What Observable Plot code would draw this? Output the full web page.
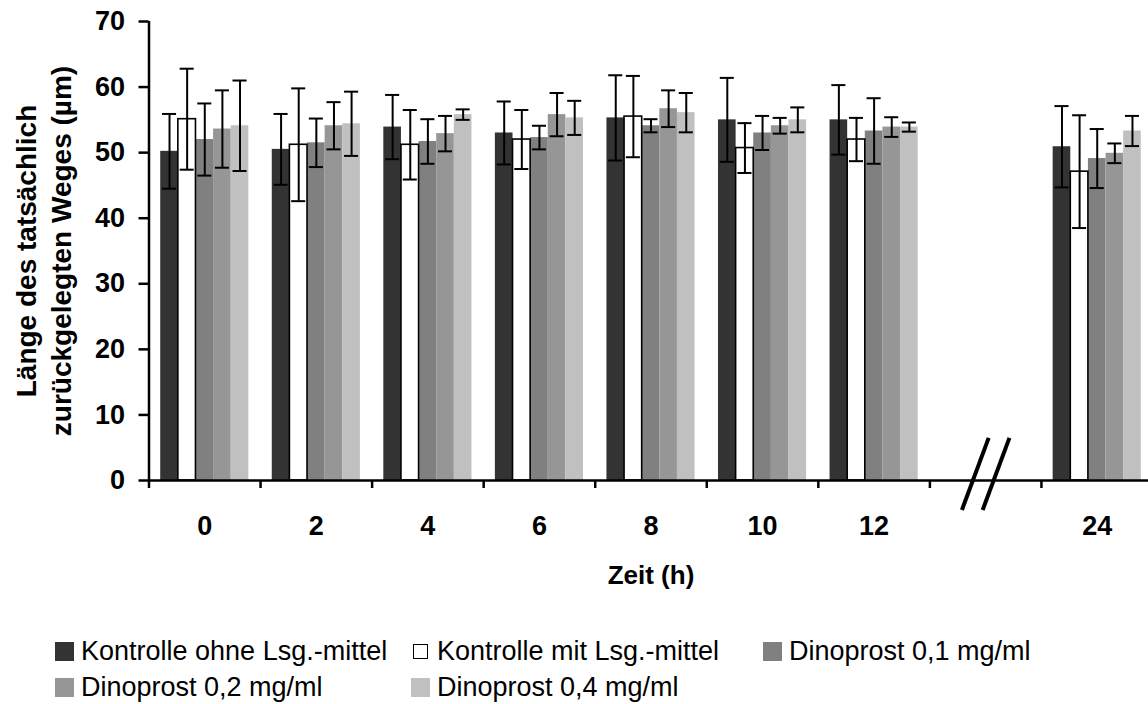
<!DOCTYPE html>
<html>
<head>
<meta charset="utf-8">
<script src="https://cdn.jsdelivr.net/npm/d3@7"></script>
<script src="https://cdn.jsdelivr.net/npm/@observablehq/plot@0.6"></script>
<style>
  html, body { margin: 0; padding: 0; background: #fff; overflow: hidden; }
  body { width: 1148px; height: 704px; position: relative; font-family: "Liberation Sans", Arial, sans-serif; }
  #legend {
    position: absolute; left: 55px; top: 633px;
    display: grid; grid-template-columns: 356px 352px auto; grid-auto-rows: 36px;
    font-size: 27px; color: #000;
  }
  .item { display: flex; align-items: center; white-space: nowrap; }
  .sw { width: 19px; height: 19px; margin-right: 7px; box-sizing: border-box; flex: none; }
  .sw.hollow { width: 15px; height: 15px; margin: 0 9px 0 2px; border: 1.3px solid #000; background: #fff; }
</style>
</head>
<body>
<div id="chart"></div>
<div id="legend"></div>
<script>
// Time points (h); the empty slot holds the axis break between 12 h and 24 h
const times = ["0", "2", "4", "6", "8", "10", "12", "", "24"];

// Treatment groups and their fills
const seriesNames = [
  "Kontrolle ohne Lsg.-mittel",
  "Kontrolle mit Lsg.-mittel",
  "Dinoprost 0,1 mg/ml",
  "Dinoprost 0,2 mg/ml",
  "Dinoprost 0,4 mg/ml"
];
const seriesColors = ["#333333", "#ffffff", "#808080", "#969696", "#c0c0c0"];

// Mean path length (µm) at 0, 2, 4, 6, 8, 10, 12, 24 h
const kontrolleOhneMean = [50.2, 50.5, 53.9, 53.0, 55.3, 55.0, 55.0, 50.9];
const kontrolleMitMean  = [55.1, 51.2, 51.2, 52.0, 55.5, 50.7, 52.0, 47.1];
const dino01Mean        = [52.0, 51.5, 51.7, 52.3, 54.1, 53.0, 53.3, 49.1];
const dino02Mean        = [53.6, 54.1, 52.9, 55.8, 56.7, 54.1, 53.9, 49.9];
const dino04Mean        = [54.1, 54.4, 55.8, 55.3, 56.1, 55.0, 53.9, 53.3];

// Standard deviations (µm)
const kontrolleOhneSd = [5.7, 5.4, 4.9, 4.8, 6.5, 6.4, 5.3, 6.2];
const kontrolleMitSd  = [7.7, 8.6, 5.3, 4.5, 6.2, 3.8, 3.3, 8.6];
const dino01Sd        = [5.5, 3.7, 3.4, 1.8, 1.0, 2.6, 5.0, 4.5];
const dino02Sd        = [5.9, 3.6, 2.7, 3.3, 2.8, 1.2, 1.5, 1.5];
const dino04Sd        = [6.9, 4.9, 0.8, 2.6, 3.0, 1.9, 0.7, 2.3];

const yTicks = [0, 10, 20, 30, 40, 50, 60, 70];

const means = [kontrolleOhneMean, kontrolleMitMean, dino01Mean, dino02Mean, dino04Mean];
const sds = [kontrolleOhneSd, kontrolleMitSd, dino01Sd, dino02Sd, dino04Sd];
const measured = times.filter(t => t !== "");

// One row per bar; slot is the position of the time point on the category axis
const rows = [];
seriesNames.forEach((name, k) => {
  measured.forEach((t, j) => {
    rows.push({time: t, slot: times.indexOf(t), series: name, k, mean: means[k][j], sd: sds[k][j]});
  });
});

// Bars are packed side by side in the middle of each slot
const barW = 0.158;
const capHalf = 0.063;
const left = d => d.slot + 0.5 + (d.k - seriesNames.length / 2) * barW;
const center = d => left(d) + barW / 2;

// Break marker sits in the empty slot
const gapSlot = times.indexOf("");
const breakLines = [-0.093, 0.093].map(o => ({x1: gapSlot + 0.5 + o - 0.12, x2: gapSlot + 0.5 + o + 0.12, y1: -4.5, y2: 6.5}));

const boundaries = d3.range(times.length + 1);
const labelSlots = times.map((t, i) => i + 0.5).filter((v, i) => times[i] !== "");

const chart = Plot.plot({
  width: 1148,
  height: 600,
  marginLeft: 148.5,
  marginRight: -4.5,
  marginTop: 21,
  marginBottom: 120,
  style: {fontFamily: "'Liberation Sans', Arial, sans-serif", fontSize: "26px", fontWeight: "bold", color: "#000", background: "#fff"},
  x: {domain: [0, times.length], axis: null},
  y: {domain: [0, 70], axis: null},
  color: {domain: seriesNames, range: seriesColors},
  marks: [
    Plot.rectY(rows, {x1: left, x2: d => left(d) + barW, y1: 0, y2: "mean", fill: "series"}),
    Plot.rectY(rows.filter(d => d.k === 1), {x1: left, x2: d => left(d) + barW, y1: 0, y2: "mean", fill: "none", stroke: "#000", strokeWidth: 1.6}),
    Plot.ruleX(rows, {x: center, y1: d => d.mean - d.sd, y2: d => d.mean + d.sd, stroke: "#000", strokeWidth: 2}),
    Plot.ruleY(rows, {y: d => d.mean + d.sd, x1: d => center(d) - capHalf, x2: d => center(d) + capHalf, stroke: "#000", strokeWidth: 2}),
    Plot.ruleY(rows, {y: d => d.mean - d.sd, x1: d => center(d) - capHalf, x2: d => center(d) + capHalf, stroke: "#000", strokeWidth: 2}),
    // axes
    Plot.ruleY([0], {stroke: "#000", strokeWidth: 2.5}),
    Plot.ruleX([0], {y1: 0, y2: 70, stroke: "#000", strokeWidth: 2.5}),
    Plot.axisY({ticks: yTicks, tickSize: 10, tickPadding: 14, strokeWidth: 2.5, fontSize: 27, label: null}),
    Plot.axisX({ticks: boundaries, tickSize: 8, tickFormat: () => "", strokeWidth: 2.5, label: null}),
    Plot.axisX({ticks: labelSlots, tickSize: 0, tickPadding: 35, fontSize: 27, tickFormat: d => times[Math.floor(d)], label: null}),
    // axis break
    Plot.link(breakLines, {x1: "x1", y1: "y1", x2: "x2", y2: "y2", stroke: "#000", strokeWidth: 4}),
    // titles
    Plot.text(["Zeit (h)"], {text: d => d, frameAnchor: "bottom", lineAnchor: "bottom", dy: 103}),
    Plot.text(["Länge des tatsächlich\nzurückgelegten Weges (µm)"], {text: d => d, frameAnchor: "left", textAnchor: "middle", rotate: -90, dx: -107, fontSize: 28, lineHeight: 1.25})
  ]
});
document.getElementById("chart").appendChild(chart);

// Legend
const legend = document.getElementById("legend");
seriesNames.forEach((name, k) => {
  const item = document.createElement("div");
  item.className = "item";
  const sw = document.createElement("span");
  sw.className = k === 1 ? "sw hollow" : "sw";
  if (k !== 1) sw.style.background = seriesColors[k];
  const label = document.createElement("span");
  label.textContent = name;
  item.append(sw, label);
  legend.appendChild(item);
});
</script>
</body>
</html>
